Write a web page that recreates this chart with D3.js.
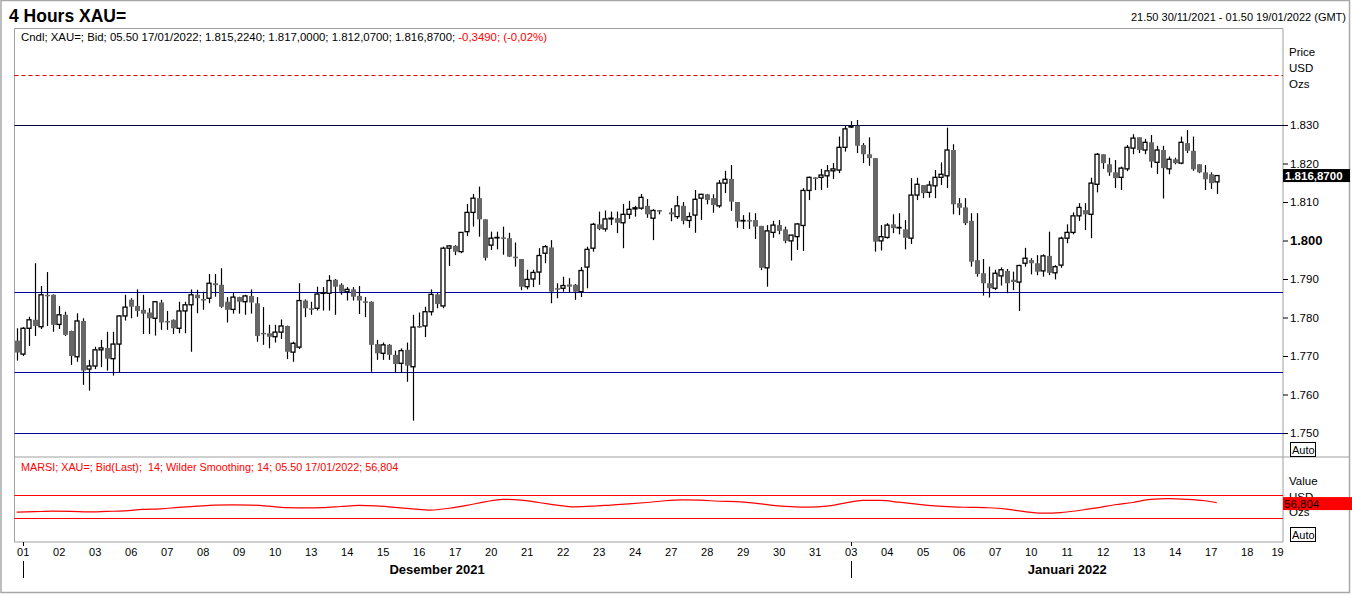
<!DOCTYPE html>
<html>
<head>
<meta charset="utf-8">
<script src="https://cdn.jsdelivr.net/npm/d3@7"></script>
<style>
  body { margin: 0; background: #fff; }
  svg { display: block; font-family: "Liberation Sans", Arial, sans-serif; }
</style>
</head>
<body>
<div id="chart"></div>
<script>
/*global d3*/

// 4 hour candles, [open, high, low, close]; null = empty slot
const candles = [
  [1774.0,1777.2,1768.8,1770.9],[1770.5,1777.5,1770.0,1777.2],[1777.2,1780.2,1772.6,1779.4],[1779.4,1794.1,1775.2,1777.8],
  [1777.6,1788.2,1777.0,1785.9],[1785.9,1791.8,1777.8,1785.7],[1785.9,1786.0,1776.3,1778.1],[1778.2,1783.0,1777.0,1780.7],
  [1780.7,1781.5,1775.2,1775.5],[1776.5,1776.6,1767.7,1770.0],[1769.8,1781.1,1768.5,1779.1],[1779.1,1779.8,1762.5,1766.2],
  [1766.6,1769.0,1761.0,1767.4],[1767.4,1772.4,1766.6,1771.6],[1771.6,1774.2,1767.1,1772.1],[1772.1,1776.3,1766.2,1769.3],
  [1769.3,1776.3,1764.9,1773.1],[1773.1,1780.6,1765.8,1780.4],[1780.4,1785.9,1779.2,1782.7],[1784.6,1785.0,1779.8,1782.8],
  [1783.0,1787.3,1780.2,1781.7],[1782.0,1785.9,1775.7,1781.0],[1781.3,1782.4,1775.7,1779.8],[1779.8,1784.2,1775.3,1784.1],
  [1783.9,1784.6,1776.8,1778.7],[1779.1,1781.7,1776.8,1778.9],[1779.4,1779.5,1775.7,1777.2],[1777.2,1784.1,1775.9,1781.7],
  [1781.7,1784.1,1775.9,1783.3],[1783.3,1787.3,1771.1,1785.9],[1785.9,1787.2,1781.1,1785.0],[1784.8,1786.7,1782.0,1784.7],
  [1785.0,1791.3,1783.7,1788.9],[1788.9,1791.3,1785.4,1788.4],[1788.5,1792.8,1782.5,1782.8],[1784.1,1785.3,1778.7,1782.0],
  [1782.1,1786.5,1781.0,1785.3],[1785.3,1785.4,1781.0,1784.1],[1784.1,1785.9,1780.7,1785.6],[1785.6,1787.3,1781.0,1783.9],
  [1783.7,1785.3,1773.7,1775.2],[1776.0,1782.7,1772.9,1775.9],[1775.9,1778.1,1772.0,1775.0],[1775.0,1778.1,1773.5,1776.2],
  [1776.2,1779.5,1774.4,1777.8],[1777.8,1777.9,1769.2,1771.1],[1771.0,1773.7,1768.5,1773.3],[1772.3,1788.9,1771.8,1784.4],
  [1784.4,1784.7,1780.1,1782.4],[1782.4,1784.1,1780.7,1782.0],[1782.4,1788.0,1781.8,1786.1],[1786.3,1787.9,1781.8,1786.4],
  [1786.3,1791.0,1781.8,1789.6],[1789.8,1790.0,1780.7,1788.0],[1788.5,1788.9,1785.9,1786.7],[1786.7,1787.9,1784.4,1787.3],
  [1787.3,1787.9,1784.4,1785.4],[1785.6,1788.2,1780.9,1784.4],[1784.2,1785.3,1780.1,1784.1],[1784.1,1784.2,1765.9,1772.9],
  [1773.1,1774.2,1769.0,1770.7],[1770.7,1773.5,1769.0,1772.9],[1772.9,1773.1,1769.0,1770.3],[1770.3,1771.4,1765.6,1767.9],
  [1768.1,1772.0,1765.6,1771.4],[1771.6,1773.5,1763.3,1767.5],[1767.2,1780.7,1753.2,1777.5],[1777.8,1781.3,1777.3,1777.4],
  [1777.8,1782.8,1774.9,1781.5],[1781.5,1787.3,1780.5,1786.0],[1786.0,1786.4,1782.4,1783.5],[1783.0,1798.4,1782.4,1798.0],
  [1798.0,1798.8,1793.4,1798.6],[1798.6,1798.8,1796.2,1797.1],[1797.1,1802.1,1796.7,1802.1],[1802.3,1809.5,1801.2,1807.3],
  [1807.3,1812.1,1803.6,1811.0],[1811.0,1814.0,1801.0,1805.5],[1805.5,1805.5,1794.8,1795.5],[1798.8,1802.3,1797.5,1800.6],
  [1800.7,1802.3,1797.7,1800.8],[1800.8,1803.6,1796.3,1800.5],[1800.6,1802.0,1795.7,1795.8],[1795.8,1799.5,1793.2,1795.4],
  [1795.2,1795.2,1787.1,1788.0],[1788.0,1792.4,1787.3,1789.9],[1790.0,1792.4,1787.9,1791.7],[1791.8,1798.0,1788.5,1796.1],
  [1796.7,1798.8,1794.1,1798.4],[1798.2,1800.1,1783.7,1786.7],[1787.6,1788.9,1785.0,1787.5],[1787.6,1790.6,1786.7,1788.3],
  [1788.6,1790.2,1786.5,1788.0],[1788.5,1788.7,1784.6,1786.7],[1786.7,1793.1,1785.3,1792.2],[1793.1,1798.4,1787.6,1797.7],
  [1798.0,1804.6,1797.1,1804.2],[1804.2,1807.5,1802.7,1803.0],[1803.0,1807.8,1802.3,1805.6],[1805.6,1807.5,1804.0,1805.8],
  [1805.8,1807.5,1801.9,1804.6],[1804.6,1809.5,1798.0,1806.8],[1806.8,1810.3,1805.6,1808.1],[1808.2,1809.0,1806.2,1808.5],
  [1808.4,1812.1,1808.0,1811.2],[1809.0,1810.8,1805.9,1806.8],[1805.8,1808.1,1800.1,1807.8],[1807.9,1807.9,1806.8,1807.8],
  null,
  [1807.3,1808.4,1805.0,1806.8],[1806.2,1811.6,1805.6,1809.0],[1809.0,1810.0,1804.2,1805.1],[1805.2,1807.3,1803.3,1806.2],
  [1806.6,1813.1,1802.0,1810.7],[1811.0,1812.1,1805.3,1812.0],[1812.0,1812.1,1809.4,1810.5],[1811.0,1812.0,1807.2,1809.2],
  [1809.0,1815.7,1808.5,1814.9],[1814.9,1818.1,1812.3,1815.9],[1816.0,1819.6,1807.7,1810.1],[1810.0,1810.0,1803.3,1804.9],
  [1805.1,1806.6,1803.0,1805.2],[1805.3,1807.3,1803.0,1805.2],[1805.3,1807.1,1800.4,1803.6],[1803.8,1803.8,1792.3,1792.9],
  [1792.9,1804.0,1788.0,1802.5],[1802.1,1805.1,1800.7,1804.0],[1804.0,1805.3,1801.6,1802.5],[1802.9,1803.6,1799.3,1799.9],
  [1799.9,1801.4,1794.8,1801.4],[1801.0,1804.5,1797.5,1804.3],[1803.9,1813.6,1797.3,1813.0],[1813.0,1816.6,1810.5,1816.4],
  [1816.4,1816.4,1813.1,1816.3],[1816.4,1818.6,1813.1,1817.0],[1816.8,1819.6,1813.7,1818.1],[1818.1,1820.1,1816.0,1818.6],
  [1818.3,1827.0,1817.5,1824.2],[1824.2,1829.8,1823.1,1829.0],[1829.5,1831.0,1829.2,1829.6],[1829.8,1831.3,1822.7,1824.6],
  [1824.8,1825.3,1820.1,1822.4],[1822.4,1826.8,1819.4,1821.4],[1821.4,1821.4,1797.1,1799.7],[1799.9,1804.0,1797.4,1801.0],
  [1800.8,1804.5,1800.5,1804.0],[1804.2,1806.8,1801.9,1803.2],[1803.3,1807.1,1801.6,1803.4],[1802.9,1805.3,1797.7,1800.7],
  [1800.6,1816.2,1799.1,1811.8],[1811.8,1816.3,1810.5,1814.6],[1814.4,1814.4,1811.0,1812.3],[1812.5,1815.5,1811.1,1814.4],
  [1814.2,1818.3,1811.0,1816.4],[1816.4,1820.3,1814.4,1817.2],[1816.8,1829.3,1813.6,1823.5],[1823.5,1825.0,1806.8,1809.4],
  [1809.7,1811.0,1806.6,1808.5],[1808.6,1811.0,1804.0,1804.5],[1805.1,1807.1,1793.2,1794.5],[1794.9,1807.1,1790.6,1791.3],
  [1791.5,1795.2,1785.7,1788.9],[1788.9,1793.2,1785.2,1787.6],[1787.6,1792.4,1787.1,1791.5],[1790.8,1793.0,1788.3,1792.4],
  [1792.1,1792.6,1786.3,1788.9],[1789.8,1791.9,1787.1,1789.2],[1789.2,1793.7,1781.7,1793.5],[1794.1,1798.1,1793.2,1795.4],
  [1794.9,1795.4,1791.2,1794.1],[1794.1,1796.2,1791.0,1791.9],[1792.1,1796.4,1790.6,1796.0],[1796.0,1802.3,1791.0,1791.6],
  [1791.6,1793.6,1789.9,1793.2],[1793.6,1801.0,1792.9,1800.6],[1800.6,1804.2,1799.3,1802.1],[1802.1,1807.3,1801.6,1806.4],
  [1806.4,1809.7,1805.1,1808.6],[1807.9,1809.7,1802.7,1806.8],[1806.8,1816.3,1800.6,1814.9],[1814.6,1822.7,1812.5,1822.4],
  [1822.4,1822.4,1818.6,1820.1],[1819.8,1821.5,1816.8,1817.7],[1817.7,1820.9,1813.6,1816.2],[1816.4,1819.2,1813.1,1818.8],
  [1818.6,1824.8,1818.0,1824.2],[1824.0,1827.6,1822.4,1826.6],[1826.8,1826.8,1822.7,1823.5],[1823.5,1826.4,1822.4,1825.5],
  [1825.5,1827.4,1818.9,1820.5],[1820.3,1824.6,1817.3,1823.5],[1823.5,1824.6,1810.9,1818.8],[1818.6,1821.8,1817.2,1821.1],
  [1821.1,1821.5,1819.8,1820.1],[1820.1,1827.0,1819.8,1825.5],[1825.3,1828.7,1822.7,1823.3],[1823.3,1827.0,1818.1,1818.5],
  [1819.8,1819.8,1817.5,1817.7],[1817.7,1819.6,1813.1,1815.9],[1817.2,1817.7,1813.4,1814.9],[1815.224,1817.0,1812.07,1816.87]
];

// smoothed RSI read at every third candle slot
const rsiSlots = [0,3,6,9,12,15,18,21,24,27,30,33,36,39,42,45,48,51,54,57,60,63,66,69,72,75,78,81,84,87,90,93,96,99,
  102,105,108,111,114,117,120,123,126,129,132,135,138,141,144,147,150,153,156,159,162,165,168,171,174,177,180,183,186,189,192,195,198,200];
const rsiValues = [40.3,41.0,41.8,41.5,40.5,41.5,42.5,45.0,46.0,48.5,50.5,52.5,53.0,52.5,50.5,48.0,47.7,48.0,50.0,52.0,51.0,48.5,46.0,43.8,
  47.0,52.0,58.0,62.5,61.0,57.0,52.5,49.5,50.5,52.5,54.5,57.0,60.0,61.4,61.0,59.1,58.5,56.0,52.0,49.8,48.9,50.5,56.0,60.5,60.5,57.5,
  54.0,51.0,49.2,48.5,47.8,45.5,41.0,38.6,39.5,43.0,47.5,53.0,57.0,62.5,63.7,62.5,60.0,56.804];

const dayLabels = ["01","02","03","06","07","08","09","10","13","14","15","16","17","20","21","22","23","24",
  "27","28","29","30","31","03","04","05","06","07","10","11","12","13","14","17","18","19"];
const monthLabels = ["Desember 2021", "Januari 2022"];
const monthStartDay = [0, 23];

const priceTicks = [1750, 1760, 1770, 1780, 1790, 1800, 1810, 1820, 1830];
const levelLines = [1830, 1786.6, 1765.9, 1750];
const dashedLevel = 1843;
const rsiBands = [70, 30];
const lastRsi = 56.804;

const width = 1352, height = 596;
const left = 14.5, right = 1283;
const mainTop = 28.5, mainBottom = 457, rsiBottom = 542;

const svg = d3.select("#chart").append("svg")
  .attr("width", width).attr("height", height);

// outer frame
svg.append("rect").attr("x", 1).attr("y", 0.5).attr("width", 1348.5).attr("height", 592)
  .attr("fill", "none").attr("stroke", "#a8a8a8").attr("stroke-width", 1.5);

const x = d3.scaleLinear().domain([0, 200]).range([16.7, 1216.7]);
const y = d3.scaleLinear().domain([1750, 1830]).range([433, 125]);
const yr = d3.scaleLinear().domain([30, 70]).range([518, 495]);

const loc = d3.formatLocale({decimal: ",", thousands: ".", grouping: [3], currency: ["", ""]});
const fmtTick = loc.format(",.0f");
const fmt4 = loc.format(",.4f");
const fmt3 = loc.format(",.3f");

// titles
svg.append("text").attr("x", 9).attr("y", 22).attr("font-size", 17.5).attr("font-weight", "bold")
  .text("4 Hours XAU=");
svg.append("text").attr("x", 1346).attr("y", 21).attr("font-size", 11).attr("text-anchor", "end")
  .text("21.50 30/11/2021 - 01.50 19/01/2022 (GMT)");

// panel borders
const border = svg.append("g").attr("stroke", "#a0a0a0").attr("fill", "none");
border.append("path").attr("d", `M${left},${mainTop}H${right}V${rsiBottom}H${left}Z`);
border.append("line").attr("x1", left).attr("x2", 1350).attr("y1", mainBottom).attr("y2", mainBottom);

// header line of main panel
const last = candles[candles.length - 1];
const hdr = svg.append("text").attr("x", 21).attr("y", 41).attr("font-size", 11.4)
  .attr("xml:space", "preserve");
hdr.append("tspan").text("Cndl; XAU=; Bid; 05.50 17/01/2022; " +
  last.map(fmt4).join("; ") + "; ");
hdr.append("tspan").attr("fill", "#ff0000").text("-0,3490; (-0,02%)");

// dashed level and horizontal lines
svg.append("line").attr("x1", left).attr("x2", right)
  .attr("y1", Math.round(y(dashedLevel)) + 0.5).attr("y2", Math.round(y(dashedLevel)) + 0.5)
  .attr("stroke", "#e00000").attr("stroke-dasharray", "4,3");
svg.append("g").selectAll("line").data(levelLines).join("line")
  .attr("x1", left).attr("x2", right)
  .attr("y1", d => Math.round(y(d)) + 0.5).attr("y2", d => Math.round(y(d)) + 0.5)
  .attr("stroke", d => d === 1830 ? "#000040" : "#0000a0");

// candles
const cd = candles.map((c, i) => c && ({i, o: c[0], h: c[1], l: c[2], c: c[3]})).filter(d => d);
const cg = svg.append("g");
cg.selectAll("line").data(cd).join("line")
  .attr("x1", d => Math.round(x(d.i)) + 0.5).attr("x2", d => Math.round(x(d.i)) + 0.5)
  .attr("y1", d => y(d.h)).attr("y2", d => y(d.l))
  .attr("stroke", "#000").attr("stroke-width", 1.2);
cg.selectAll("rect").data(cd).join("rect")
  .attr("x", d => Math.round(x(d.i)) - 2)
  .attr("width", d => d.c >= d.o ? 4 : 5)
  .attr("y", d => d.c >= d.o ? y(d.c) : y(d.o))
  .attr("height", d => Math.max(d.c >= d.o ? 0.5 : 1.5, Math.abs(y(d.o) - y(d.c))))
  .attr("fill", d => d.c >= d.o ? "#fff" : "#676767")
  .attr("stroke", d => d.c >= d.o ? "#000" : "none")
  .attr("stroke-width", 1.3);

// right price axis
const yAxis = svg.append("g").attr("transform", `translate(${right},0)`)
  .call(d3.axisRight(y).tickValues(priceTicks).tickSize(5).tickPadding(2).tickFormat(fmtTick));
yAxis.select(".domain").remove();
yAxis.selectAll("text").attr("font-family", "Liberation Sans, Arial")
  .attr("font-weight", d => d === 1800 ? "bold" : null)
  .attr("font-size", d => d === 1800 ? 13 : 11.5);

const unitG = svg.append("g").attr("font-size", 11.5);
["Price", "USD", "Ozs"].forEach((t, i) => unitG.append("text").attr("x", 1289).attr("y", 56 + i * 16).text(t));

// last price box
const ly = y(last[3]);
svg.append("rect").attr("x", right).attr("y", ly - 6.5).attr("width", 67).attr("height", 13).attr("fill", "#000");
svg.append("text").attr("x", right + 2).attr("y", ly + 4.5).attr("fill", "#fff").attr("font-size", 11.5)
  .attr("font-weight", "bold").text(fmt4(last[3]));

function autoBox(yTop) {
  svg.append("rect").attr("x", 1290.5).attr("y", yTop + 0.5).attr("width", 25).attr("height", 14)
    .attr("fill", "#fff").attr("stroke", "#000");
  svg.append("text").attr("x", 1292).attr("y", yTop + 11.5).attr("font-size", 11).text("Auto");
}
autoBox(442);
autoBox(527);

// RSI panel
svg.append("text").attr("x", 21).attr("y", 471).attr("font-size", 10.8).attr("fill", "#ff0000")
  .attr("xml:space", "preserve")
  .text("MARSI; XAU=; Bid(Last);  14; Wilder Smoothing; 14; 05.50 17/01/2022; " + fmt3(lastRsi));
svg.append("g").selectAll("line").data(rsiBands).join("line")
  .attr("x1", left).attr("x2", right)
  .attr("y1", d => Math.round(yr(d)) + 0.5).attr("y2", d => Math.round(yr(d)) + 0.5)
  .attr("stroke", "#ff0000");
svg.append("path").datum(rsiSlots.map((s, i) => [s, rsiValues[i]]))
  .attr("fill", "none").attr("stroke", "#ff0000").attr("stroke-width", 1.2)
  .attr("d", d3.line().x(d => x(d[0])).y(d => yr(d[1])).curve(d3.curveMonotoneX));

// unit labels sit behind the value box, as in the terminal
const vG = svg.append("g").attr("font-size", 11.5);
["Value", "USD", "Ozs"].forEach((t, i) => vG.append("text").attr("x", 1289).attr("y", 485 + i * 15.5).text(t));
const ry = yr(lastRsi);
svg.append("rect").attr("x", right).attr("y", ry - 5.5).attr("width", 69).attr("height", 13).attr("fill", "#ff0000");
svg.append("text").attr("x", right + 1).attr("y", ry + 5).attr("font-size", 11.5).attr("fill", "#000")
  .text(fmt3(lastRsi));

// bottom time axis
const daySlot = k => 6 * k + 1;
const xAxis = svg.append("g").attr("transform", `translate(0,${rsiBottom})`)
  .call(d3.axisBottom(x).tickValues(dayLabels.map((d, k) => daySlot(k)))
    .tickSize(0).tickPadding(6).tickFormat((d, k) => dayLabels[k]));
xAxis.select(".domain").remove();
xAxis.selectAll("text").attr("font-size", 11).attr("font-family", "Liberation Sans, Arial")
  .attr("x", d => Math.min(0, 1277 - x(d)));

monthStartDay.forEach((k, m) => {
  const mx = Math.round(x(daySlot(k))) + 0.5;
  const nx = m + 1 < monthStartDay.length ? x(daySlot(monthStartDay[m + 1])) : right;
  svg.append("line").attr("x1", mx).attr("x2", mx).attr("y1", rsiBottom).attr("y2", rsiBottom + 4).attr("stroke", "#000");
  svg.append("line").attr("x1", mx).attr("x2", mx).attr("y1", 561).attr("y2", 578).attr("stroke", "#000");
  svg.append("text").attr("x", (mx + nx) / 2).attr("y", 574).attr("text-anchor", "middle")
    .attr("font-size", 13).attr("font-weight", "bold").text(monthLabels[m]);
});
</script>
</body>
</html>
